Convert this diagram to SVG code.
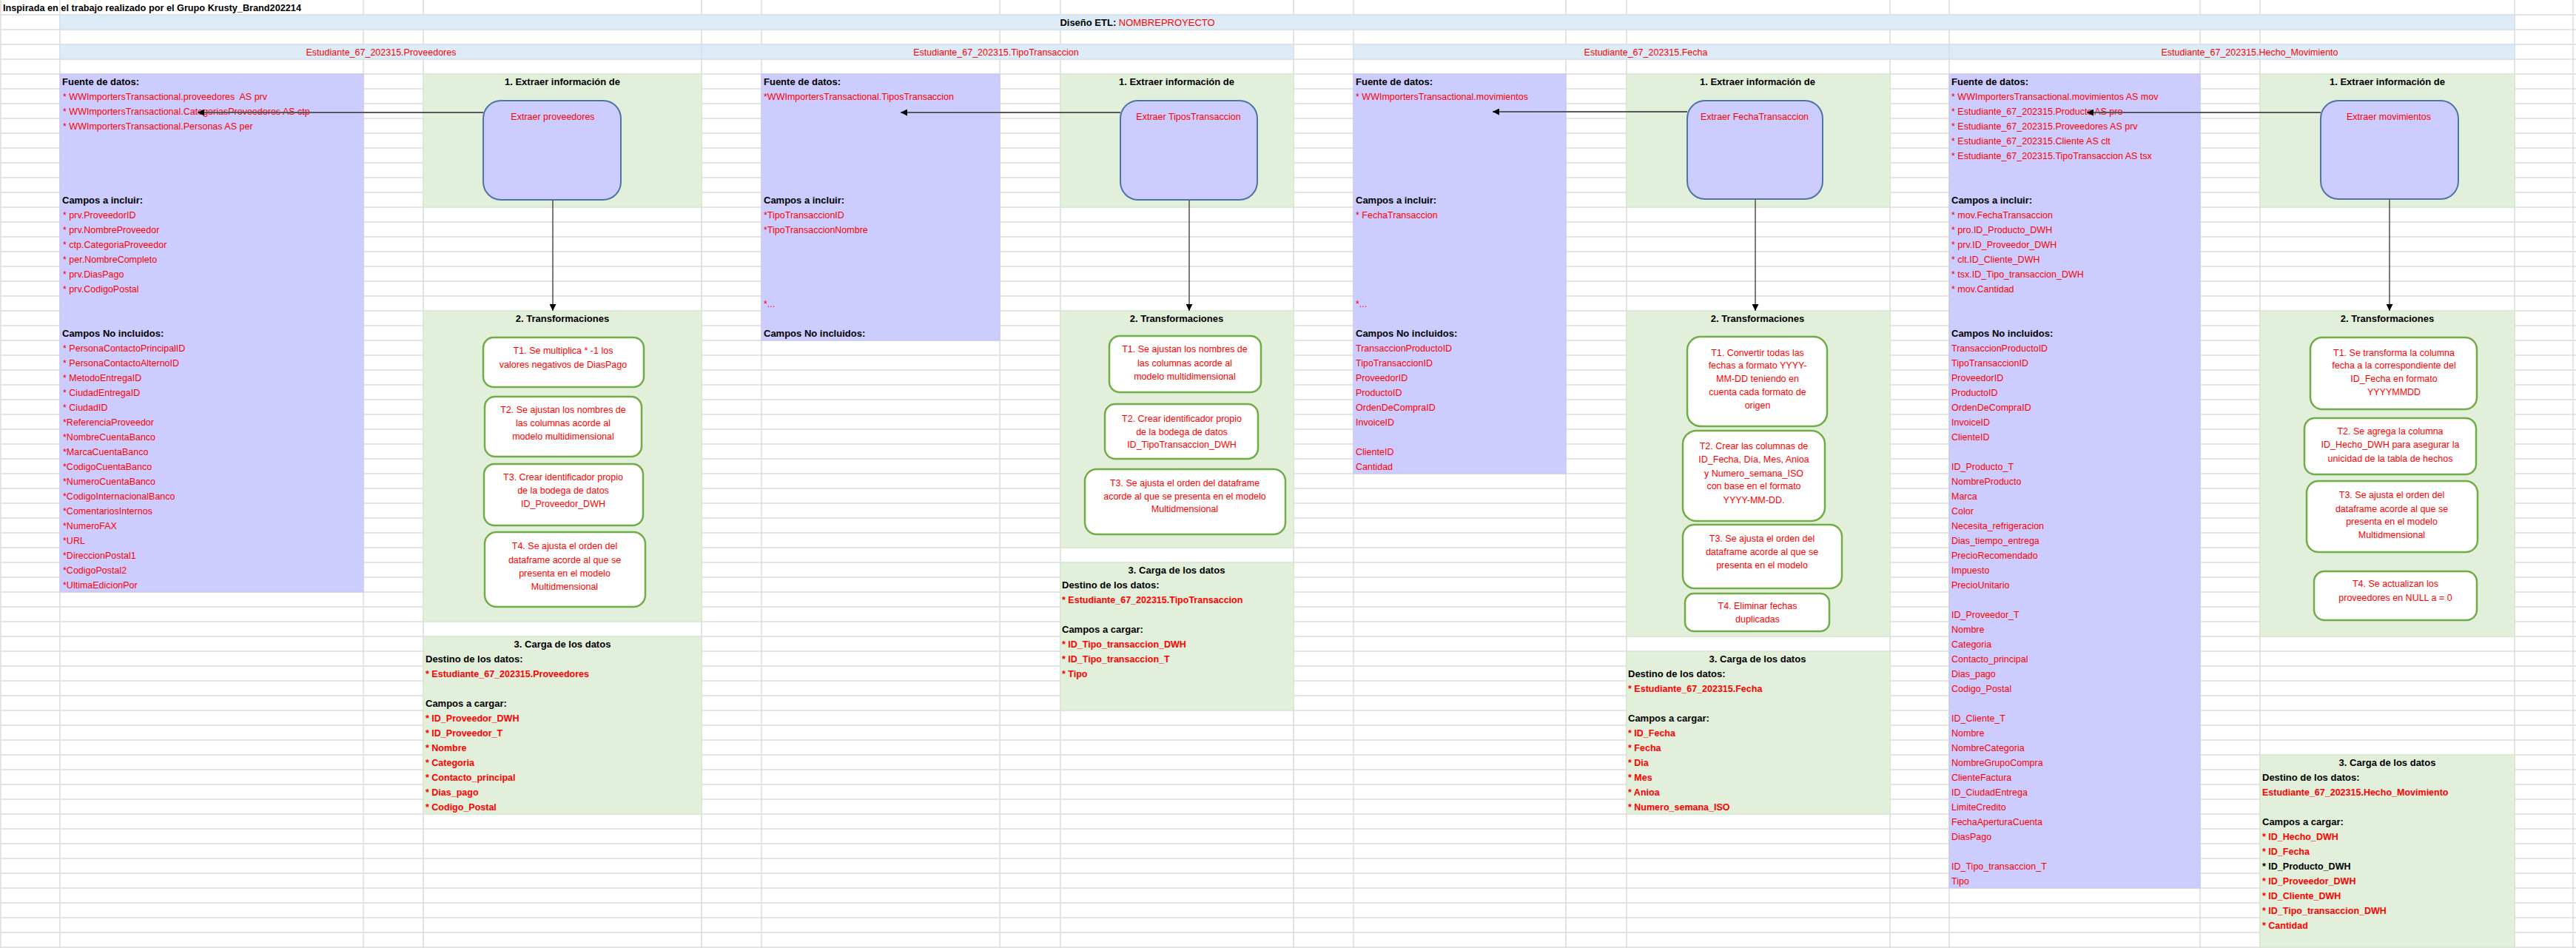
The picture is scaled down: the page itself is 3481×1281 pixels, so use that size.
<svg xmlns="http://www.w3.org/2000/svg" width="3481" height="1281" viewBox="0 0 3481 1281">
  <defs>
    <style>
      text { font-family: "Liberation Sans", Arial, sans-serif; }
      .grid { stroke: #dcdcdc; stroke-width: 1.5; fill: none; }
      .purple { fill: #ccccff; stroke: #c4c4f2; stroke-width: 1; }
      .green { fill: #e2efda; stroke: #d4e8c8; stroke-width: 1; }
      .band { fill: #ddebf7; stroke: #cddff0; stroke-width: 1; }
      .ext { fill: #ccccff; stroke: #4f74a6; stroke-width: 2; }
      .tbox { fill: #ffffff; stroke: #70ad47; stroke-width: 2.5; }
      .h { font-size: 13px; font-weight: bold; fill: #000000; }
      .r { font-size: 12.5px; fill: #ff0000; }
      .rb { font-size: 12.5px; font-weight: bold; fill: #ff0000; }
      .kb { font-size: 12.5px; font-weight: bold; fill: #000000; }
      .c { text-anchor: middle; }
      .flow { stroke: #595959; stroke-width: 1.6; fill: none; }
      .src { stroke: #595959; stroke-width: 1.8; fill: none; }
    </style>
    <marker id="arr" viewBox="0 0 10 10" refX="10" refY="5" markerWidth="9" markerHeight="9" markerUnits="userSpaceOnUse" orient="auto">
      <path d="M0,0 L10,5 L0,10 z" fill="#000000"/>
    </marker>
  </defs>

  <rect x="0" y="0" width="3481" height="1281" fill="#ffffff"/>

  <!-- spreadsheet grid -->
  <g id="grid">
    <path class="grid" d="M0 20H3481M0 40H3481M0 60H3481M0 80H3481M0 100H3481M0 120H3481M0 140H3481M0 160H3481M0 180H3481M0 200H3481M0 220H3481M0 240H3481M0 260H3481M0 280H3481M0 300H3481M0 320H3481M0 340H3481M0 360H3481M0 380H3481M0 400H3481M0 420H3481M0 440H3481M0 460H3481M0 480H3481M0 500H3481M0 520H3481M0 540H3481M0 560H3481M0 580H3481M0 600H3481M0 620H3481M0 640H3481M0 660H3481M0 680H3481M0 700H3481M0 720H3481M0 740H3481M0 760H3481M0 780H3481M0 800H3481M0 820H3481M0 840H3481M0 860H3481M0 880H3481M0 900H3481M0 920H3481M0 940H3481M0 960H3481M0 980H3481M0 1000H3481M0 1020H3481M0 1040H3481M0 1060H3481M0 1080H3481M0 1100H3481M0 1120H3481M0 1140H3481M0 1160H3481M0 1180H3481M0 1200H3481M0 1220H3481M0 1240H3481M0 1260H3481M0 1280H3481"/>
    <path class="grid" d="M1 0V1281M81 0V1281M491 0V1281M572 0V1281M948 0V1281M1029 0V1281M1351 0V1281M1433 0V1281M1748 0V1281M1829 0V1281M2116 0V1281M2198 0V1281M2554 0V1281M2634 0V1281M2973 0V1281M3054 0V1281M3398 0V1281M3477 0V1281"/>
  </g>

  <!-- header rows -->
  <g id="header">
    <text class="h" x="4" y="14.5" font-size="12" textLength="403" lengthAdjust="spacingAndGlyphs">Inspirada en el trabajo realizado por el Grupo Krusty_Brand202214</text>
    <rect class="band" x="81" y="20" width="3317" height="20"/>
    <text class="c" x="1537" y="34.5" font-size="13"><tspan font-weight="bold" fill="#000000">Diseño ETL:</tspan><tspan fill="#ff0000"> NOMBREPROYECTO</tspan></text>
    <rect class="band" x="81" y="60" width="867" height="20"/>
    <rect class="band" x="948" y="60" width="800" height="20"/>
    <rect class="band" x="1829" y="60" width="805" height="20"/>
    <rect class="band" x="2634" y="60" width="764" height="20"/>
    <text class="r c" x="515" y="74.5" font-size="13">Estudiante_67_202315.Proveedores</text>
    <text class="r c" x="1346" y="74.5" font-size="13">Estudiante_67_202315.TipoTransaccion</text>
    <text class="r c" x="2224" y="74.5" font-size="13">Estudiante_67_202315.Fecha</text>
    <text class="r c" x="3040" y="74.5" font-size="13">Estudiante_67_202315.Hecho_Movimiento</text>
  </g>

  <!-- ===== Proveedores ===== -->
  <g id="prov-fuente">
    <rect class="purple" x="81" y="100" width="410" height="700"/>
    <text class="h" x="84" y="114.5">Fuente de datos:</text>
    <text class="r" x="85" y="134.5">* WWImportersTransactional.proveedores&#160; AS prv</text>
    <text class="r" x="85" y="154.5">* WWImportersTransactional.CategoriasProveedores AS ctp</text>
    <text class="r" x="85" y="174.5">* WWImportersTransactional.Personas AS per</text>
    <text class="h" x="84" y="274.5">Campos a incluir:</text>
    <text class="r" x="85" y="294.5">* prv.ProveedorID</text>
    <text class="r" x="85" y="314.5">* prv.NombreProveedor</text>
    <text class="r" x="85" y="334.5">* ctp.CategoriaProveedor</text>
    <text class="r" x="85" y="354.5">* per.NombreCompleto</text>
    <text class="r" x="85" y="374.5">* prv.DiasPago</text>
    <text class="r" x="85" y="394.5">* prv.CodigoPostal</text>
    <text class="h" x="84" y="454.5">Campos No incluidos:</text>
    <text class="r" x="85" y="474.5">* PersonaContactoPrincipalID</text>
    <text class="r" x="85" y="494.5">* PersonaContactoAlternoID</text>
    <text class="r" x="85" y="514.5">* MetodoEntregaID</text>
    <text class="r" x="85" y="534.5">* CiudadEntregaID</text>
    <text class="r" x="85" y="554.5">* CiudadID</text>
    <text class="r" x="85" y="574.5">*ReferenciaProveedor</text>
    <text class="r" x="85" y="594.5">*NombreCuentaBanco</text>
    <text class="r" x="85" y="614.5">*MarcaCuentaBanco</text>
    <text class="r" x="85" y="634.5">*CodigoCuentaBanco</text>
    <text class="r" x="85" y="654.5">*NumeroCuentaBanco</text>
    <text class="r" x="85" y="674.5">*CodigoInternacionalBanco</text>
    <text class="r" x="85" y="694.5">*ComentariosInternos</text>
    <text class="r" x="85" y="714.5">*NumeroFAX</text>
    <text class="r" x="85" y="734.5">*URL</text>
    <text class="r" x="85" y="754.5">*DireccionPostal1</text>
    <text class="r" x="85" y="774.5">*CodigoPostal2</text>
    <text class="r" x="85" y="794.5">*UltimaEdicionPor</text>
  </g>
  <g id="prov-extraer">
    <rect class="green" x="572" y="100" width="376" height="180"/>
    <text class="h c" x="760" y="114.5">1. Extraer información de</text>
    <rect class="ext" x="653" y="136" width="186" height="134" rx="24"/>
    <text class="r c" x="747" y="161.5">Extraer proveedores</text>
  </g>
  <g id="prov-transf">
    <rect class="green" x="572" y="420" width="376" height="420"/>
    <text class="h c" x="760" y="434.5">2. Transformaciones</text>
    <g id="prov-t1">
      <rect class="tbox" x="653" y="456" width="217" height="67" rx="14"/>
      <text class="r c" x="761" y="477.5">T1. Se multiplica * -1 los</text>
      <text class="r c" x="761" y="496.5">valores negativos de DiasPago</text>
    </g>
    <g id="prov-t2">
      <rect class="tbox" x="655" y="536" width="212" height="81" rx="14"/>
      <text class="r c" x="761" y="557.5">T2. Se ajustan los nombres de</text>
      <text class="r c" x="761" y="575.5">las columnas acorde al</text>
      <text class="r c" x="761" y="593.5">modelo multidimensional</text>
    </g>
    <g id="prov-t3">
      <rect class="tbox" x="654" y="627" width="215" height="83" rx="14"/>
      <text class="r c" x="761" y="648.5">T3. Crear identificador propio</text>
      <text class="r c" x="761" y="666.5">de la bodega de datos</text>
      <text class="r c" x="761" y="684.5">ID_Proveedor_DWH</text>
    </g>
    <g id="prov-t4">
      <rect class="tbox" x="655" y="719" width="217" height="101" rx="16"/>
      <text class="r c" x="763" y="741.5">T4. Se ajusta el orden del</text>
      <text class="r c" x="763" y="760.5">dataframe acorde al que se</text>
      <text class="r c" x="763" y="778.5">presenta en el modelo</text>
      <text class="r c" x="763" y="796.5">Multidmensional</text>
    </g>
  </g>
  <g id="prov-carga">
    <rect class="green" x="572" y="860" width="376" height="240"/>
    <text class="h c" x="760" y="874.5">3. Carga de los datos</text>
    <text class="h" x="575" y="894.5">Destino de los datos:</text>
    <text class="rb" x="575" y="914.5">* Estudiante_67_202315.Proveedores</text>
    <text class="h" x="575" y="954.5">Campos a cargar:</text>
    <text class="rb" x="575" y="974.5">* ID_Proveedor_DWH</text>
    <text class="rb" x="575" y="994.5">* ID_Proveedor_T</text>
    <text class="rb" x="575" y="1014.5">* Nombre</text>
    <text class="rb" x="575" y="1034.5">* Categoria</text>
    <text class="rb" x="575" y="1054.5">* Contacto_principal</text>
    <text class="rb" x="575" y="1074.5">* Dias_pago</text>
    <text class="rb" x="575" y="1094.5">* Codigo_Postal</text>
  </g>

  <!-- ===== TipoTransaccion ===== -->
  <g id="tipo-fuente">
    <rect class="purple" x="1029" y="100" width="322" height="360"/>
    <text class="h" x="1032" y="114.5">Fuente de datos:</text>
    <text class="r" x="1032" y="134.5">*WWImportersTransactional.TiposTransaccion</text>
    <text class="h" x="1032" y="274.5">Campos a incluir:</text>
    <text class="r" x="1032" y="294.5">*TipoTransaccionID</text>
    <text class="r" x="1032" y="314.5">*TipoTransaccionNombre</text>
    <text class="r" x="1032" y="414.5">*...</text>
    <text class="h" x="1032" y="454.5">Campos No incluidos:</text>
  </g>
  <g id="tipo-extraer">
    <rect class="green" x="1433" y="100" width="315" height="180"/>
    <text class="h c" x="1590" y="114.5">1. Extraer información de</text>
    <rect class="ext" x="1514" y="136" width="185" height="134" rx="24"/>
    <text class="r c" x="1606" y="161.5">Extraer TiposTransaccion</text>
  </g>
  <g id="tipo-transf">
    <rect class="green" x="1433" y="420" width="315" height="320"/>
    <text class="h c" x="1590" y="434.5">2. Transformaciones</text>
    <g id="tipo-t1">
      <rect class="tbox" x="1499" y="454" width="205" height="76" rx="14"/>
      <text class="r c" x="1601" y="475.5">T1. Se ajustan los nombres de</text>
      <text class="r c" x="1601" y="494.5">las columnas acorde al</text>
      <text class="r c" x="1601" y="512.5">modelo multidimensional</text>
    </g>
    <g id="tipo-t2">
      <rect class="tbox" x="1493" y="546" width="207" height="74" rx="14"/>
      <text class="r c" x="1597" y="569.5">T2. Crear identificador propio</text>
      <text class="r c" x="1597" y="587.5">de la bodega de datos</text>
      <text class="r c" x="1597" y="604.5">ID_TipoTransaccion_DWH</text>
    </g>
    <g id="tipo-t3">
      <rect class="tbox" x="1466" y="634" width="271" height="88" rx="16"/>
      <text class="r c" x="1601" y="656.5">T3. Se ajusta el orden del dataframe</text>
      <text class="r c" x="1601" y="674.5">acorde al que se presenta en el modelo</text>
      <text class="r c" x="1601" y="691.5">Multidmensional</text>
    </g>
  </g>
  <g id="tipo-carga">
    <rect class="green" x="1433" y="760" width="315" height="200"/>
    <text class="h c" x="1590" y="774.5">3. Carga de los datos</text>
    <text class="h" x="1435" y="794.5">Destino de los datos:</text>
    <text class="rb" x="1435" y="814.5">* Estudiante_67_202315.TipoTransaccion</text>
    <text class="h" x="1435" y="854.5">Campos a cargar:</text>
    <text class="rb" x="1435" y="874.5">* ID_Tipo_transaccion_DWH</text>
    <text class="rb" x="1435" y="894.5">* ID_Tipo_transaccion_T</text>
    <text class="rb" x="1435" y="914.5">* Tipo</text>
  </g>

  <!-- ===== Fecha ===== -->
  <g id="fecha-fuente">
    <rect class="purple" x="1829" y="100" width="287" height="540"/>
    <text class="h" x="1832" y="114.5">Fuente de datos:</text>
    <text class="r" x="1832" y="134.5">* WWImportersTransactional.movimientos</text>
    <text class="h" x="1832" y="274.5">Campos a incluir:</text>
    <text class="r" x="1832" y="294.5">* FechaTransaccion</text>
    <text class="r" x="1832" y="414.5">*...</text>
    <text class="h" x="1832" y="454.5">Campos No incluidos:</text>
    <text class="r" x="1832" y="474.5">TransaccionProductoID</text>
    <text class="r" x="1832" y="494.5">TipoTransaccionID</text>
    <text class="r" x="1832" y="514.5">ProveedorID</text>
    <text class="r" x="1832" y="534.5">ProductoID</text>
    <text class="r" x="1832" y="554.5">OrdenDeCompraID</text>
    <text class="r" x="1832" y="574.5">InvoiceID</text>
    <text class="r" x="1832" y="614.5">ClienteID</text>
    <text class="r" x="1832" y="634.5">Cantidad</text>
  </g>
  <g id="fecha-extraer">
    <rect class="green" x="2198" y="100" width="356" height="180"/>
    <text class="h c" x="2375" y="114.5">1. Extraer información de</text>
    <rect class="ext" x="2280" y="136" width="183" height="133" rx="24"/>
    <text class="r c" x="2371" y="161.5">Extraer FechaTransaccion</text>
  </g>
  <g id="fecha-transf">
    <rect class="green" x="2198" y="420" width="356" height="440"/>
    <text class="h c" x="2375" y="434.5">2. Transformaciones</text>
    <g id="fecha-t1">
      <rect class="tbox" x="2280" y="455" width="189" height="121" rx="18"/>
      <text class="r c" x="2375" y="480.5">T1. Convertir todas las</text>
      <text class="r c" x="2375" y="497.5">fechas a formato YYYY-</text>
      <text class="r c" x="2375" y="515.5">MM-DD teniendo en</text>
      <text class="r c" x="2375" y="533.5">cuenta cada formato de</text>
      <text class="r c" x="2375" y="551.5">origen</text>
    </g>
    <g id="fecha-t2">
      <rect class="tbox" x="2274" y="582" width="192" height="122" rx="18"/>
      <text class="r c" x="2370" y="606.5">T2. Crear las columnas de</text>
      <text class="r c" x="2370" y="624.5">ID_Fecha, Día, Mes, Anioa</text>
      <text class="r c" x="2370" y="643.5">y Numero_semana_ISO</text>
      <text class="r c" x="2370" y="660.5">con base en el formato</text>
      <text class="r c" x="2370" y="679.5">YYYY-MM-DD.</text>
    </g>
    <g id="fecha-t3">
      <rect class="tbox" x="2274" y="709" width="215" height="86" rx="16"/>
      <text class="r c" x="2381" y="731.5">T3. Se ajusta el orden del</text>
      <text class="r c" x="2381" y="749.5">dataframe acorde al que se</text>
      <text class="r c" x="2381" y="767.5">presenta en el modelo</text>
    </g>
    <g id="fecha-t4">
      <rect class="tbox" x="2277" y="802" width="195" height="51" rx="12"/>
      <text class="r c" x="2375" y="822.5">T4. Eliminar fechas</text>
      <text class="r c" x="2375" y="840.5">duplicadas</text>
    </g>
  </g>
  <g id="fecha-carga">
    <rect class="green" x="2198" y="880" width="356" height="220"/>
    <text class="h c" x="2375" y="894.5">3. Carga de los datos</text>
    <text class="h" x="2200" y="914.5">Destino de los datos:</text>
    <text class="rb" x="2200" y="934.5">* Estudiante_67_202315.Fecha</text>
    <text class="h" x="2200" y="974.5">Campos a cargar:</text>
    <text class="rb" x="2200" y="994.5">* ID_Fecha</text>
    <text class="rb" x="2200" y="1014.5">* Fecha</text>
    <text class="rb" x="2200" y="1034.5">* Dia</text>
    <text class="rb" x="2200" y="1054.5">* Mes</text>
    <text class="rb" x="2200" y="1074.5">* Anioa</text>
    <text class="rb" x="2200" y="1094.5">* Numero_semana_ISO</text>
  </g>

  <!-- ===== Hecho_Movimiento ===== -->
  <g id="hecho-fuente">
    <rect class="purple" x="2634" y="100" width="339" height="1100"/>
    <text class="h" x="2637" y="114.5">Fuente de datos:</text>
    <text class="r" x="2637" y="134.5">* WWImportersTransactional.movimientos AS mov</text>
    <text class="r" x="2637" y="154.5">* Estudiante_67_202315.Producto AS pro</text>
    <text class="r" x="2637" y="174.5">* Estudiante_67_202315.Proveedores AS prv</text>
    <text class="r" x="2637" y="194.5">* Estudiante_67_202315.Cliente AS clt</text>
    <text class="r" x="2637" y="214.5">* Estudiante_67_202315.TipoTransaccion AS tsx</text>
    <text class="h" x="2637" y="274.5">Campos a incluir:</text>
    <text class="r" x="2637" y="294.5">* mov.FechaTransaccion</text>
    <text class="r" x="2637" y="314.5">* pro.ID_Producto_DWH</text>
    <text class="r" x="2637" y="334.5">* prv.ID_Proveedor_DWH</text>
    <text class="r" x="2637" y="354.5">* clt.ID_Cliente_DWH</text>
    <text class="r" x="2637" y="374.5">* tsx.ID_Tipo_transaccion_DWH</text>
    <text class="r" x="2637" y="394.5">* mov.Cantidad</text>
    <text class="h" x="2637" y="454.5">Campos No incluidos:</text>
    <text class="r" x="2637" y="474.5">TransaccionProductoID</text>
    <text class="r" x="2637" y="494.5">TipoTransaccionID</text>
    <text class="r" x="2637" y="514.5">ProveedorID</text>
    <text class="r" x="2637" y="534.5">ProductoID</text>
    <text class="r" x="2637" y="554.5">OrdenDeCompraID</text>
    <text class="r" x="2637" y="574.5">InvoiceID</text>
    <text class="r" x="2637" y="594.5">ClienteID</text>
    <text class="r" x="2637" y="634.5">ID_Producto_T</text>
    <text class="r" x="2637" y="654.5">NombreProducto</text>
    <text class="r" x="2637" y="674.5">Marca</text>
    <text class="r" x="2637" y="694.5">Color</text>
    <text class="r" x="2637" y="714.5">Necesita_refrigeracion</text>
    <text class="r" x="2637" y="734.5">Dias_tiempo_entrega</text>
    <text class="r" x="2637" y="754.5">PrecioRecomendado</text>
    <text class="r" x="2637" y="774.5">Impuesto</text>
    <text class="r" x="2637" y="794.5">PrecioUnitario</text>
    <text class="r" x="2637" y="834.5">ID_Proveedor_T</text>
    <text class="r" x="2637" y="854.5">Nombre</text>
    <text class="r" x="2637" y="874.5">Categoria</text>
    <text class="r" x="2637" y="894.5">Contacto_principal</text>
    <text class="r" x="2637" y="914.5">Dias_pago</text>
    <text class="r" x="2637" y="934.5">Codigo_Postal</text>
    <text class="r" x="2637" y="974.5">ID_Cliente_T</text>
    <text class="r" x="2637" y="994.5">Nombre</text>
    <text class="r" x="2637" y="1014.5">NombreCategoria</text>
    <text class="r" x="2637" y="1034.5">NombreGrupoCompra</text>
    <text class="r" x="2637" y="1054.5">ClienteFactura</text>
    <text class="r" x="2637" y="1074.5">ID_CiudadEntrega</text>
    <text class="r" x="2637" y="1094.5">LimiteCredito</text>
    <text class="r" x="2637" y="1114.5">FechaAperturaCuenta</text>
    <text class="r" x="2637" y="1134.5">DiasPago</text>
    <text class="r" x="2637" y="1174.5">ID_Tipo_transaccion_T</text>
    <text class="r" x="2637" y="1194.5">Tipo</text>
  </g>
  <g id="hecho-extraer">
    <rect class="green" x="3054" y="100" width="344" height="180"/>
    <text class="h c" x="3226" y="114.5">1. Extraer información de</text>
    <rect class="ext" x="3136" y="136" width="186" height="133" rx="24"/>
    <text class="r c" x="3228" y="161.5">Extraer movimientos</text>
  </g>
  <g id="hecho-transf">
    <rect class="green" x="3054" y="420" width="344" height="440"/>
    <text class="h c" x="3226" y="434.5">2. Transformaciones</text>
    <g id="hecho-t1">
      <rect class="tbox" x="3122" y="456" width="225" height="97" rx="16"/>
      <text class="r c" x="3235" y="480.5">T1. Se transforma la columna</text>
      <text class="r c" x="3235" y="497.5">fecha a la correspondiente del</text>
      <text class="r c" x="3235" y="515.5">ID_Fecha en formato</text>
      <text class="r c" x="3235" y="533.5">YYYYMMDD</text>
    </g>
    <g id="hecho-t2">
      <rect class="tbox" x="3114" y="565" width="232" height="76" rx="14"/>
      <text class="r c" x="3230" y="586.5">T2. Se agrega la columna</text>
      <text class="r c" x="3230" y="604.5">ID_Hecho_DWH para asegurar la</text>
      <text class="r c" x="3230" y="623.5">unicidad de la tabla de hechos</text>
    </g>
    <g id="hecho-t3">
      <rect class="tbox" x="3117" y="650" width="231" height="96" rx="16"/>
      <text class="r c" x="3232" y="672.5">T3. Se ajusta el orden del</text>
      <text class="r c" x="3232" y="691.5">dataframe acorde al que se</text>
      <text class="r c" x="3232" y="708.5">presenta en el modelo</text>
      <text class="r c" x="3232" y="726.5">Multidmensional</text>
    </g>
    <g id="hecho-t4">
      <rect class="tbox" x="3127" y="772" width="220" height="66" rx="14"/>
      <text class="r c" x="3237" y="792.5">T4. Se actualizan los</text>
      <text class="r c" x="3237" y="811.5">proveedores en NULL a = 0</text>
    </g>
  </g>
  <g id="hecho-carga">
    <rect class="green" x="3054" y="1020" width="344" height="260"/>
    <text class="h c" x="3226" y="1034.5">3. Carga de los datos</text>
    <text class="h" x="3057" y="1054.5">Destino de los datos:</text>
    <text class="rb" x="3057" y="1074.5">Estudiante_67_202315.Hecho_Movimiento</text>
    <text class="h" x="3057" y="1114.5">Campos a cargar:</text>
    <text class="rb" x="3057" y="1134.5">* ID_Hecho_DWH</text>
    <text class="rb" x="3057" y="1154.5">* ID_Fecha</text>
    <text class="kb" x="3057" y="1174.5">* ID_Producto_DWH</text>
    <text class="rb" x="3057" y="1194.5">* ID_Proveedor_DWH</text>
    <text class="rb" x="3057" y="1214.5">* ID_Cliente_DWH</text>
    <text class="rb" x="3057" y="1234.5">* ID_Tipo_transaccion_DWH</text>
    <text class="rb" x="3057" y="1254.5">* Cantidad</text>
  </g>

  <!-- connectors -->
  <g id="connectors">
    <path class="src" d="M653 152H267" marker-end="url(#arr)"/>
    <path class="flow" d="M747 270V420" marker-end="url(#arr)"/>
    <path class="src" d="M1514 152H1217" marker-end="url(#arr)"/>
    <path class="flow" d="M1607 270V420" marker-end="url(#arr)"/>
    <path class="src" d="M2280 151H2017" marker-end="url(#arr)"/>
    <path class="flow" d="M2372 269V420" marker-end="url(#arr)"/>
    <path class="src" d="M3136 152H2820" marker-end="url(#arr)"/>
    <path class="flow" d="M3229 269V420" marker-end="url(#arr)"/>
  </g>
</svg>
